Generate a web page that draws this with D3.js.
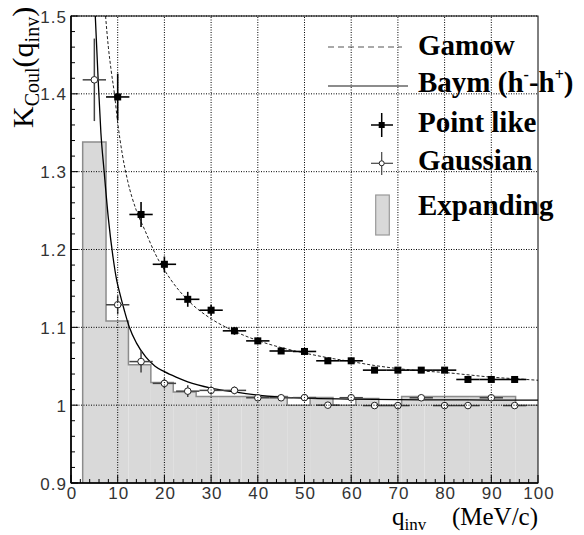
<!DOCTYPE html>
<html>
<head>
<meta charset="utf-8">
<script src="https://cdn.jsdelivr.net/npm/d3@7"></script>
<style>
  body { margin: 0; background: #fff; }
  .tick-label { font-family: "Liberation Sans", Arial, sans-serif; font-size: 17px; fill: #333; letter-spacing: 1px; }
  .title { font-family: "Liberation Serif", "Times New Roman", serif; fill: #000; }
  .legend { font-family: "Liberation Serif", "Times New Roman", serif; font-weight: bold; font-size: 29px; fill: #000; }
</style>
</head>
<body>
<div id="vis"></div>
<script>
// ---- data ----
// point like (filled squares)
var pointQ   = [10, 15, 20, 25, 30, 35, 40, 45, 50, 55, 60, 65, 70, 75, 80, 85, 90, 95];
var pointK   = [1.396, 1.245, 1.181, 1.136, 1.122, 1.0955, 1.0826, 1.0696, 1.069, 1.057, 1.057, 1.045, 1.045, 1.045, 1.045, 1.033, 1.033, 1.033];
var pointErr = [0.03, 0.016, 0.01, 0.0096, 0.007, 0.005, 0.004, 0.004, 0.004, 0.003, 0.003, 0.003, 0.003, 0.003, 0.003, 0.003, 0.003, 0.003];

// gaussian (open circles)
var gaussQ   = [5, 10, 15, 20, 25, 30, 35, 40, 45, 50, 55, 60, 65, 70, 75, 80, 85, 90, 95];
var gaussK   = [1.418, 1.129, 1.056, 1.028, 1.018, 1.019, 1.019, 1.0095, 1.0095, 1.0097, 1.0, 1.0096, 0.9995, 0.9995, 1.0095, 0.9995, 0.9995, 1.0095, 0.9995];
var gaussErr = [0.053, 0.012, 0.014, 0.0065, 0.0075, 0.005, 0.005, 0.004, 0.004, 0.004, 0.003, 0.003, 0.003, 0.003, 0.003, 0.003, 0.003, 0.003, 0.003];

// half width of the q bins (horizontal error bars)
var binHalf = 2.5;

// expanding source histogram
var expEdges = [2.5, 7.5, 12.3, 17.1, 21.9, 26.8, 31.6, 36.5, 41.3, 46.3, 51.2, 56.1, 61.0, 65.9, 70.8, 75.7, 80.5, 85.4, 90.3, 95.2, 100];
var expK     = [1.338, 1.108, 1.052, 1.029, 1.017, 1.011, 1.011, 1.011, 1.011, 1.0, 1.010, 1.0, 1.0085, 1.0, 1.011, 1.011, 1.011, 1.011, 1.011, 1.0];

// Gamow curve (dashed)
var gamowQ = [7.4, 8, 8.6, 9.3, 10, 11, 12.1, 14, 15.8, 18, 21.4, 25, 30, 35, 40, 45, 50, 55, 60, 65, 70, 75, 80, 85, 90, 95, 100];
var gamowK = [1.5, 1.46, 1.43, 1.40, 1.363, 1.322, 1.289, 1.25, 1.225, 1.195, 1.161, 1.135, 1.111, 1.095, 1.083, 1.074, 1.067, 1.061, 1.056, 1.051, 1.047, 1.044, 1.042, 1.039, 1.036, 1.034, 1.032];

// Baym (h- h+) curve (solid)
var baymQ = [5.2, 5.8, 6.4, 7.1, 8, 9, 9.8, 10.4, 11.5, 12.5, 14, 16, 18, 20, 22.5, 25, 30, 35, 40, 50, 60, 70, 80, 90, 100];
var baymK = [1.5, 1.42, 1.35, 1.30, 1.24, 1.19, 1.16, 1.145, 1.12, 1.10, 1.08, 1.062, 1.05, 1.043, 1.036, 1.03, 1.022, 1.017, 1.013, 1.009, 1.0078, 1.007, 1.0068, 1.0066, 1.0064];

var xTicks = [0, 10, 20, 30, 40, 50, 60, 70, 80, 90, 100];
var yTicks = [0.9, 1.0, 1.1, 1.2, 1.3, 1.4, 1.5];

// ---- layout ----
var width = 584, height = 535;
var margin = { top: 16, left: 71, bottom: 52, right: 46 };

var svg = d3.select('#vis').append('svg')
  .attr('width', width)
  .attr('height', height);

var x = d3.scaleLinear().domain([0, 100]).range([margin.left, width - margin.right]);
var y = d3.scaleLinear().domain([0.9, 1.5]).range([height - margin.bottom, margin.top]);

svg.append('clipPath').attr('id', 'plot-clip')
  .append('rect')
  .attr('x', x(0)).attr('y', y(1.5))
  .attr('width', x(100) - x(0)).attr('height', y(0.9) - y(1.5));

var plot = svg.append('g').attr('clip-path', 'url(#plot-clip)');

// histogram (fill + step outline)
expK.forEach(function (k, i) {
  plot.append('rect')
    .attr('x', x(expEdges[i]))
    .attr('y', y(k))
    .attr('width', x(expEdges[i + 1]) - x(expEdges[i]))
    .attr('height', y(0.9) - y(k))
    .attr('fill', '#d9d9d9');
});
var stepPts = [[expEdges[0], 0.9]];
expK.forEach(function (k, i) {
  stepPts.push([expEdges[i], k]);
  stepPts.push([expEdges[i + 1], k]);
});
plot.append('path')
  .attr('d', d3.line().x(function (d) { return x(d[0]); }).y(function (d) { return y(d[1]); })(stepPts))
  .attr('fill', 'none')
  .attr('stroke', '#8c8c8c')
  .attr('stroke-width', 1.5);

// grid
xTicks.slice(1, -1).forEach(function (t) {
  svg.append('line')
    .attr('x1', x(t)).attr('x2', x(t))
    .attr('y1', y(0.9)).attr('y2', y(1.5))
    .attr('stroke', '#000').attr('stroke-width', 1)
    .attr('stroke-dasharray', '1,1.5');
});
yTicks.slice(1).forEach(function (t) {
  svg.append('line')
    .attr('x1', x(0)).attr('x2', x(100))
    .attr('y1', y(t)).attr('y2', y(t))
    .attr('stroke', '#000').attr('stroke-width', 1)
    .attr('stroke-dasharray', '1,1.5');
});

// curves
var curveLine = d3.line()
  .x(function (d) { return x(d[0]); })
  .y(function (d) { return y(d[1]); })
  .curve(d3.curveMonotoneX);

plot.append('path')
  .attr('d', curveLine(d3.zip(gamowQ, gamowK)))
  .attr('fill', 'none')
  .attr('stroke', '#222')
  .attr('stroke-width', 1)
  .attr('stroke-dasharray', '3,2');

plot.append('path')
  .attr('d', curveLine(d3.zip(baymQ, baymK)))
  .attr('fill', 'none')
  .attr('stroke', '#000')
  .attr('stroke-width', 1.3);

// gaussian points
gaussQ.forEach(function (q, i) {
  var g = plot.append('g');
  g.append('line')
    .attr('x1', x(q - binHalf)).attr('x2', x(q + binHalf))
    .attr('y1', y(gaussK[i])).attr('y2', y(gaussK[i]))
    .attr('stroke', '#444').attr('stroke-width', 1.5);
  g.append('line')
    .attr('x1', x(q)).attr('x2', x(q))
    .attr('y1', y(gaussK[i] - gaussErr[i])).attr('y2', y(gaussK[i] + gaussErr[i]))
    .attr('stroke', '#444').attr('stroke-width', 1.5);
  g.append('circle')
    .attr('cx', x(q)).attr('cy', y(gaussK[i])).attr('r', 3.3)
    .attr('fill', '#fff').attr('stroke', '#222').attr('stroke-width', 1);
});

// point like points
pointQ.forEach(function (q, i) {
  var g = plot.append('g');
  g.append('line')
    .attr('x1', x(q - binHalf)).attr('x2', x(q + binHalf))
    .attr('y1', y(pointK[i])).attr('y2', y(pointK[i]))
    .attr('stroke', '#000').attr('stroke-width', 1.6);
  g.append('line')
    .attr('x1', x(q)).attr('x2', x(q))
    .attr('y1', y(pointK[i] - pointErr[i])).attr('y2', y(pointK[i] + pointErr[i]))
    .attr('stroke', '#000').attr('stroke-width', 1.6);
  g.append('rect')
    .attr('x', x(q) - 3.5).attr('y', y(pointK[i]) - 3.5)
    .attr('width', 7).attr('height', 7)
    .attr('fill', '#000');
});

// frame
svg.append('rect')
  .attr('x', x(0)).attr('y', y(1.5))
  .attr('width', x(100) - x(0)).attr('height', y(0.9) - y(1.5))
  .attr('fill', 'none').attr('stroke', '#000').attr('stroke-width', 1);
svg.append('line')
  .attr('x1', x(0)).attr('x2', x(0)).attr('y1', y(0.9)).attr('y2', y(1.5))
  .attr('stroke', '#000').attr('stroke-width', 1.6);
svg.append('line')
  .attr('x1', x(0)).attr('x2', x(100)).attr('y1', y(0.9)).attr('y2', y(0.9))
  .attr('stroke', '#000').attr('stroke-width', 1.6);

// ticks (inside, ROOT style)
d3.range(0, 101, 2).forEach(function (t) {
  var len = (t % 10 === 0) ? 8 : 4;
  svg.append('line')
    .attr('x1', x(t)).attr('x2', x(t))
    .attr('y1', y(0.9)).attr('y2', y(0.9) - len)
    .attr('stroke', '#000').attr('stroke-width', 1);
});
d3.range(0, 31).forEach(function (i) {
  var t = 0.9 + i * 0.02;
  var len = (i % 5 === 0) ? 7 : 4;
  svg.append('line')
    .attr('x1', x(0)).attr('x2', x(0) + len)
    .attr('y1', y(t)).attr('y2', y(t))
    .attr('stroke', '#000').attr('stroke-width', 1);
});

// tick labels
xTicks.forEach(function (t) {
  svg.append('text')
    .attr('class', 'tick-label')
    .attr('x', x(t) + 1)
    .attr('y', y(0.9) + 16)
    .attr('text-anchor', 'middle')
    .text(t);
});
yTicks.forEach(function (t) {
  svg.append('text')
    .attr('class', 'tick-label')
    .attr('x', x(0) - 4)
    .attr('y', y(t) + 6.5)
    .attr('text-anchor', 'end')
    .text(t === 1 ? '1' : d3.format('.1f')(t));
});

// axis titles
var yt = svg.append('text')
  .attr('class', 'title')
  .attr('transform', 'translate(33,128) rotate(-90)')
  .attr('font-size', 30);
yt.append('tspan').text('K');
yt.append('tspan').attr('font-size', 20).attr('dy', 6).text('Coul');
yt.append('tspan').attr('dy', -6).text('(q');
yt.append('tspan').attr('font-size', 20).attr('dy', 6).text('inv');
yt.append('tspan').attr('dy', -6).text(')');

var xt = svg.append('text')
  .attr('class', 'title')
  .attr('x', 392).attr('y', 525)
  .attr('font-size', 25);
xt.append('tspan').text('q');
xt.append('tspan').attr('font-size', 17).attr('dy', 5).text('inv');
svg.append('text')
  .attr('class', 'title')
  .attr('x', 538).attr('y', 525)
  .attr('text-anchor', 'end')
  .attr('font-size', 25)
  .text('(MeV/c)');

// legend
var legX = 418;
svg.append('line')
  .attr('x1', 328).attr('x2', 402).attr('y1', 47).attr('y2', 47)
  .attr('stroke', '#555').attr('stroke-width', 1.2).attr('stroke-dasharray', '6,4');
svg.append('text').attr('class', 'legend').attr('x', legX).attr('y', 55).text('Gamow');

svg.append('line')
  .attr('x1', 328).attr('x2', 408).attr('y1', 86).attr('y2', 86)
  .attr('stroke', '#666').attr('stroke-width', 1.5);
var bt = svg.append('text').attr('class', 'legend').attr('x', legX).attr('y', 92);
bt.append('tspan').text('Baym (h');
bt.append('tspan').attr('font-size', 16).attr('dy', -12).text('-');
bt.append('tspan').attr('dy', 12).text('-h');
bt.append('tspan').attr('font-size', 16).attr('dy', -12).text('+');
bt.append('tspan').attr('dy', 12).text(')');

svg.append('line').attr('x1', 371).attr('x2', 393).attr('y1', 125).attr('y2', 125)
  .attr('stroke', '#000').attr('stroke-width', 1.5);
svg.append('line').attr('x1', 381.7).attr('x2', 381.7).attr('y1', 113).attr('y2', 137)
  .attr('stroke', '#000').attr('stroke-width', 1.5);
svg.append('rect').attr('x', 378.7).attr('y', 122).attr('width', 6).attr('height', 6).attr('fill', '#000');
svg.append('text').attr('class', 'legend').attr('x', legX).attr('y', 131.7).text('Point like');

svg.append('line').attr('x1', 371).attr('x2', 393).attr('y1', 163.3).attr('y2', 163.3)
  .attr('stroke', '#444').attr('stroke-width', 1.2);
svg.append('line').attr('x1', 381.7).attr('x2', 381.7).attr('y1', 152).attr('y2', 175)
  .attr('stroke', '#444').attr('stroke-width', 1.2);
svg.append('circle').attr('cx', 381.7).attr('cy', 163.3).attr('r', 2.5)
  .attr('fill', '#fff').attr('stroke', '#222').attr('stroke-width', 1);
svg.append('text').attr('class', 'legend').attr('x', legX).attr('y', 170).text('Gaussian');

svg.append('rect').attr('x', 375.7).attr('y', 195).attr('width', 13.6).attr('height', 40)
  .attr('fill', '#d9d9d9').attr('stroke', '#999').attr('stroke-width', 1.2);
svg.append('text').attr('class', 'legend').attr('x', legX).attr('y', 215).text('Expanding');
</script>
</body>
</html>
